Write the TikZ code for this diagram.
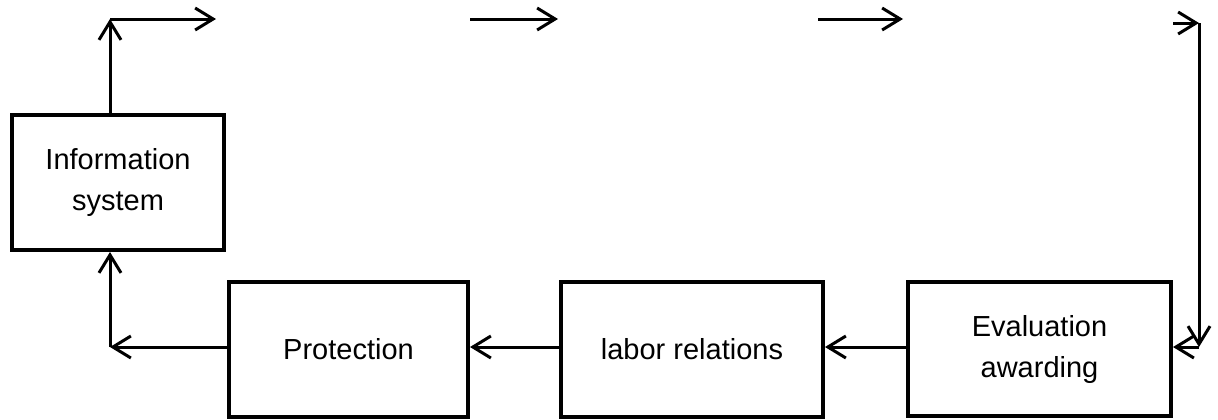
\documentclass[tikz,border=0pt]{standalone}
\usepackage{fontspec}
\setmainfont{Liberation Sans}
\usetikzlibrary{arrows.meta}
\begin{document}
\begin{tikzpicture}[x=0.5pt,y=-0.5pt,
  box/.style={draw,line width=2pt,inner sep=0pt,align=center,
    font=\fontsize{14.5}{20.5}\selectfont},
  conn/.style={line width=1.5pt,-{Straight Barb[length=9pt,width=11pt,line width=1.5pt]}}]
\useasboundingbox (0,0) rectangle (1218,419);
\node[box,minimum width=106pt,minimum height=67.5pt] (info) at (118,182.5) {Information\\system};
\node[box,minimum width=119.5pt,minimum height=67.5pt] (prot) at (348.5,349.5) {Protection};
\node[box,minimum width=131pt,minimum height=67.5pt] (labor) at (692,349.5) {labor relations};
\node[box,minimum width=131.5pt,minimum height=67pt] (eval) at (1039.5,349) {Evaluation\\awarding};
\coordinate (c1) at (110,19);
\coordinate (a1e) at (216,19);
\coordinate (a2s) at (470,19);
\coordinate (a2e) at (558,19);
\coordinate (a3s) at (818,19);
\coordinate (a3e) at (903,19);
\coordinate (a4s) at (1173,23);
\coordinate (c2) at (1199,23);
\coordinate (c3) at (1199,347);
\coordinate (c4) at (110,347);
\draw[conn] (info.north -| c1) -- (c1);
\draw[conn] (c1) -- (a1e);
\draw[conn] (a2s) -- (a2e);
\draw[conn] (a3s) -- (a3e);
\draw[conn] (a4s) -- (c2);
\draw[conn] (c2) -- (c3);
\draw[conn] (c3) -- (eval.east |- c3);
\draw[conn] (eval.west |- c3) -- (labor.east |- c3);
\draw[conn] (labor.west |- c3) -- (prot.east |- c3);
\draw[conn] (prot.west |- c3) -- (c4);
\draw[conn] (c4) -- (info.south -| c4);
\end{tikzpicture}
\end{document}
